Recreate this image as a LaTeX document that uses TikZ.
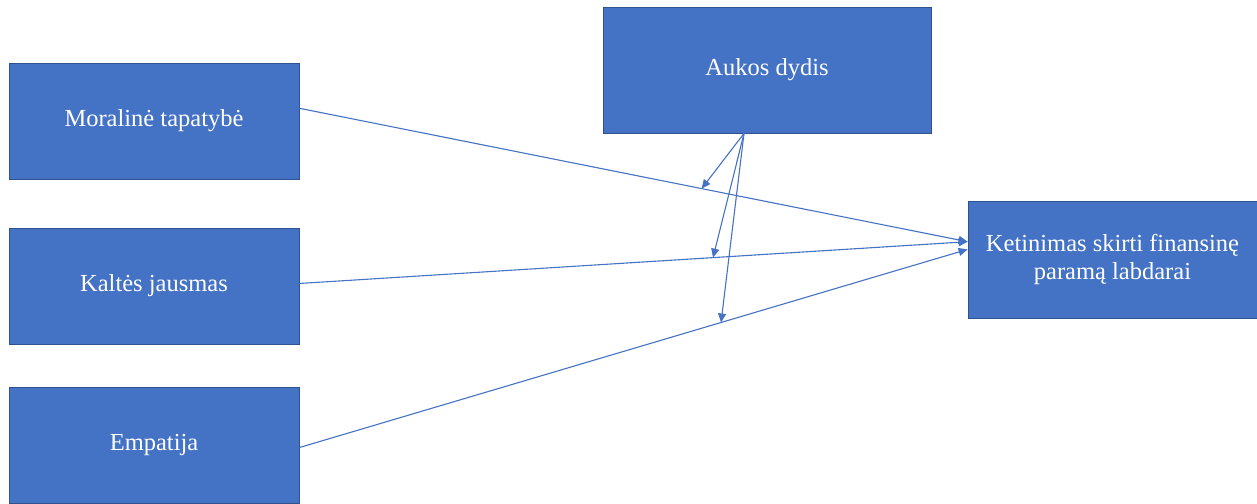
\documentclass[tikz,border=0pt]{standalone}
\usepackage{fontspec}
\setmainfont{Liberation Serif}
\usetikzlibrary{arrows.meta,calc}
\definecolor{boxblue}{HTML}{4472C4}
\definecolor{boxedge}{HTML}{2F528F}
\begin{document}
\begin{tikzpicture}[x=1pt,y=-1pt,
  box/.style={draw=boxedge,line width=0.8pt,fill=boxblue,text=white,inner sep=0pt,
    font=\fontsize{24.5}{28}\selectfont,align=center},
  conn/.style={draw=boxblue,line width=1.1pt,-{Triangle[length=9pt,width=8pt]}}]
\useasboundingbox (0,0) rectangle (1257,503);
\node[box,minimum width=290pt,minimum height=116pt] (m) at (154,121) {Moralinė tapatybė};
\node[box,minimum width=290pt,minimum height=116pt] (k) at (154,286) {Kaltės jausmas};
\node[box,minimum width=290pt,minimum height=116pt] (e) at (154,445) {Empatija};
\node[box,minimum width=328pt,minimum height=126pt] (a) at (767,70) {Aukos dydis};
\node[box,minimum width=289pt,minimum height=117pt] (t) at (1112.5,259.5) {Ketinimas skirti finansinę\\paramą labdarai};
\coordinate (as) at ($(a.south)+(-23pt,0)$);
\draw[conn] (m.5) -- coordinate[pos=0.602] (p1) (t.173.5);
\draw[conn] (k.1) -- coordinate[pos=0.619] (p2) (t.173.5);
\draw[conn] (e.-1) -- coordinate[pos=0.631] (p3) (t.176.2);
\draw[conn] (as) -- (p1);
\draw[conn] (as) -- (p2);
\draw[conn] (as) -- (p3);
\end{tikzpicture}
\end{document}
